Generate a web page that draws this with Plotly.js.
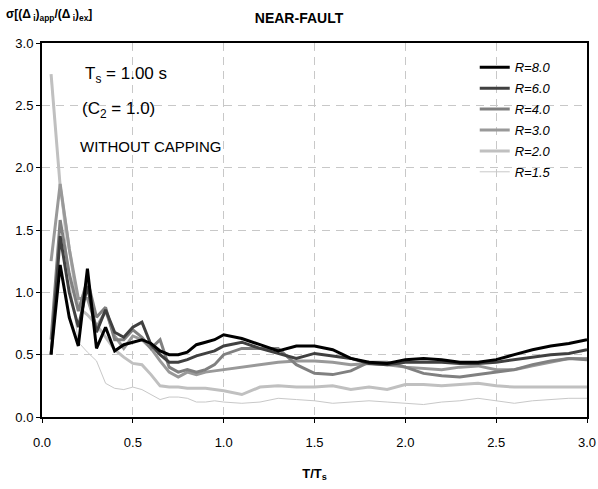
<!DOCTYPE html>
<html>
<head>
<meta charset="utf-8">
<script src="https://cdn.plot.ly/plotly-3.0.1.min.js"></script>
<style>html,body{margin:0;padding:0;background:#fff;}#chart{width:598px;height:489px;}</style>
</head>
<body>
<div id="chart"></div>
<script>
// T/Ts
var period = [0.05,0.10,0.15,0.20,0.25,0.30,0.35,0.40,0.45,0.50,0.55,0.60,0.65,0.70,0.75,0.80,0.85,0.90,0.95,1.00,
              1.1,1.2,1.3,1.4,1.5,1.6,1.7,1.8,1.9,2.0,2.1,2.2,2.3,2.4,2.5,2.6,2.7,2.8,2.9,3.0];

var r80 = [0.50,1.22,0.80,0.57,1.19,0.55,0.72,0.53,0.58,0.60,0.62,0.59,0.53,0.50,0.50,0.52,0.58,0.60,0.62,0.66,
           0.63,0.58,0.53,0.57,0.57,0.54,0.47,0.44,0.43,0.46,0.47,0.46,0.44,0.44,0.46,0.50,0.54,0.57,0.59,0.62];
var r60 = [0.50,1.45,1.00,0.72,1.05,0.68,0.86,0.68,0.64,0.72,0.76,0.58,0.50,0.44,0.44,0.46,0.49,0.51,0.53,0.57,
           0.60,0.55,0.51,0.47,0.51,0.49,0.47,0.43,0.42,0.44,0.44,0.44,0.43,0.43,0.44,0.46,0.48,0.50,0.51,0.54];
var r40 = [0.62,1.58,1.15,0.85,1.10,0.80,0.88,0.62,0.62,0.70,0.64,0.55,0.62,0.40,0.36,0.38,0.36,0.38,0.42,0.50,
           0.55,0.55,0.55,0.42,0.35,0.34,0.37,0.44,0.44,0.40,0.35,0.33,0.32,0.34,0.36,0.38,0.42,0.45,0.47,0.46];
var r30 = [1.25,1.87,1.35,0.95,0.95,0.72,0.85,0.65,0.55,0.65,0.62,0.55,0.45,0.36,0.32,0.36,0.34,0.36,0.37,0.38,
           0.40,0.42,0.44,0.45,0.45,0.44,0.42,0.43,0.42,0.40,0.39,0.38,0.40,0.41,0.38,0.38,0.41,0.44,0.47,0.47];
var r20 = [2.75,1.85,1.35,0.88,0.82,0.74,0.64,0.54,0.48,0.43,0.42,0.34,0.25,0.24,0.24,0.23,0.23,0.23,0.22,0.21,
           0.18,0.24,0.25,0.24,0.24,0.25,0.22,0.24,0.22,0.26,0.26,0.25,0.26,0.27,0.25,0.24,0.24,0.24,0.24,0.24];
var r15 = [2.70,1.84,1.12,0.60,0.52,0.45,0.27,0.23,0.22,0.24,0.22,0.18,0.14,0.16,0.16,0.15,0.12,0.12,0.13,0.12,
           0.11,0.12,0.15,0.14,0.13,0.11,0.12,0.13,0.12,0.11,0.10,0.12,0.13,0.15,0.13,0.11,0.13,0.14,0.15,0.15];

var seriesNames = ["R=8.0","R=6.0","R=4.0","R=3.0","R=2.0","R=1.5"];
var seriesData = [r80, r60, r40, r30, r20, r15];
var colors = ["#000000","#404040","#808080","#999999","#c0c0c0","#c8c8c8"];
var widths = [3,3,3,3,3,1];

var traces = [];
for (var i = seriesData.length - 1; i >= 0; i--) {
  traces.push({
    x: period, y: seriesData[i], type: "scatter", mode: "lines",
    name: "<i>" + seriesNames[i] + "</i>",
    legendgroup: "g" + i,
    legendrank: i + 1,
    line: {color: colors[i], width: widths[i]}
  });
}

var ff = "Liberation Sans, Arial, sans-serif";
var layout = {
  width: 598, height: 489,
  margin: {l: 42, r: 11, t: 43, b: 72},
  paper_bgcolor: "#fff", plot_bgcolor: "#fff",
  font: {family: ff, size: 12, color: "#000"},
  showlegend: true,
  title: {text: "<b>NEAR-FAULT</b>", x: 0.5, xanchor: "center", y: 0.963, yanchor: "middle",
          font: {family: ff, size: 14, color: "#000"}},
  xaxis: {
    range: [0, 3.0], dtick: 0.5, tick0: 0, tickformat: ".1f",
    showgrid: true, gridcolor: "#c8c8c8", griddash: "8px,6px", gridwidth: 1,
    zeroline: false, showline: true, linecolor: "#000", linewidth: 2, mirror: true,
    ticks: "outside", ticklen: 4, tickcolor: "#000", ticklabelstandoff: 8,
    tickfont: {family: ff, size: 13, color: "#000"},
    title: {text: "<b>T/T<sub>s</sub></b>", standoff: 20, font: {family: ff, size: 13, color: "#000"}}
  },
  yaxis: {
    range: [0, 3.0], dtick: 0.5, tick0: 0, tickformat: ".1f",
    showgrid: true, gridcolor: "#c8c8c8", griddash: "8px,6px", gridwidth: 1,
    zeroline: false, showline: true, linecolor: "#000", linewidth: 2, mirror: true,
    ticks: "outside", ticklen: 4, tickcolor: "#000",
    tickfont: {family: ff, size: 13, color: "#000"}
  },
  legend: {
    x: 0.794, y: 0.975, xanchor: "left", yanchor: "top",
    bgcolor: "rgba(255,255,255,0)", borderwidth: 0,
    traceorder: "grouped",
    font: {family: ff, size: 13, color: "#000"},
    itemwidth: 30, tracegroupgap: 1
  },
  annotations: [
    {xref: "paper", yref: "paper", x: -0.07, y: 1.075, xanchor: "left", yanchor: "middle", showarrow: false,
     text: "<b>σ[(Δ<sub> i</sub>)<sub>app</sub>/(Δ<sub> i</sub>)<sub>ex</sub>]</b>",
     font: {family: ff, size: 12, color: "#000"}},
    {xref: "paper", yref: "paper", x: 0.075, y: 0.914, xanchor: "left", yanchor: "middle", showarrow: false,
     text: "T<sub>s</sub> = 1.00 s", font: {family: ff, size: 17, color: "#000"}},
    {xref: "paper", yref: "paper", x: 0.07, y: 0.822, xanchor: "left", yanchor: "middle", showarrow: false,
     text: "(C<sub>2</sub> = 1.0)", font: {family: ff, size: 17, color: "#000"}},
    {xref: "paper", yref: "paper", x: 0.066, y: 0.722, xanchor: "left", yanchor: "middle", showarrow: false,
     text: "WITHOUT CAPPING", font: {family: ff, size: 15, color: "#000"}}
  ]
};

Plotly.newPlot("chart", traces, layout, {displayModeBar: false, staticPlot: true});
</script>
</body>
</html>
